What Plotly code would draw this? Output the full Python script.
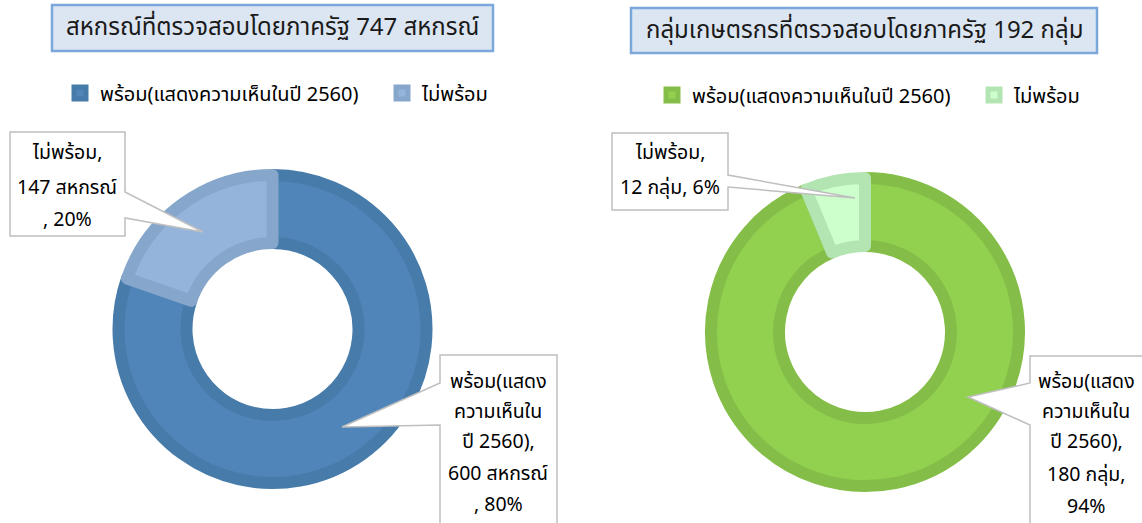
import plotly.graph_objects as go

W, H = 1142, 523

# ---- data ----
categories = ["พร้อม(แสดงความเห็นในปี 2560)", "ไม่พร้อม"]
coop_values = [600, 147]
group_values = [180, 12]
coop_unit = "สหกรณ์"
group_unit = "กลุ่ม"
coop_title = "สหกรณ์ที่ตรวจสอบโดยภาครัฐ 747 สหกรณ์"
group_title = "กลุ่มเกษตรกรที่ตรวจสอบโดยภาครัฐ 192 กลุ่ม"

coop_fill = ["#4F85B9", "#95B4DC"]
coop_line = ["#467BAA", "#86A7CB"]
group_fill = ["#92D050", "#CCFFCC"]
group_line = ["#84BE48", "#B3E5B3"]

FONT = "Tahoma, 'Noto Sans Thai', 'Noto Sans', 'DejaVu Sans', sans-serif"


def px(x):
    return x / W


def py(y):
    return 1 - y / H


def pct(vals, i):
    return round(vals[i] / sum(vals) * 100)


R_OUT = 160
LW = 12
r = R_OUT - LW / 2
hole = (80 + LW / 2) / r


def domain(cx, cy):
    return dict(x=[px(cx - r), px(cx + r)], y=[py(cy + r), py(cy - r)])


# labels of the second chart get a zero-width space so that the two pies keep
# separate legend entries (plotly merges pie legend items by label)
group_labels = [c + "\u200b" for c in categories]

fig = go.Figure()
fig.add_trace(go.Pie(
    labels=categories, values=coop_values, sort=False, direction="clockwise",
    rotation=0, hole=hole, textinfo="none", domain=domain(272.5, 329),
    marker=dict(colors=coop_fill, line=dict(color=coop_line, width=LW)),
    legend="legend", showlegend=True,
))
fig.add_trace(go.Pie(
    labels=group_labels, values=group_values, sort=False, direction="clockwise",
    rotation=0, hole=hole, textinfo="none", domain=domain(865, 332),
    marker=dict(colors=group_fill, line=dict(color=group_line, width=LW)),
    legend="legend2", showlegend=True,
))

shapes = []
annotations = []

# title boxes
for (x0, y0, x1, y1), text in [((52, 5, 493, 51), coop_title), ((631, 8, 1097, 53), group_title)]:
    shapes.append(dict(type="rect", xref="paper", yref="paper",
                       x0=px(x0), x1=px(x1), y0=py(y1), y1=py(y0),
                       fillcolor="#DCE6F2", line=dict(color="#7BA7DB", width=2.5)))
    annotations.append(dict(xref="paper", yref="paper", x=px((x0 + x1) / 2), y=py((y0 + y1) / 2),
                            text=text, showarrow=False, xanchor="center", yanchor="middle",
                            font=dict(size=24, color="#1A1A1A", family=FONT)))


def callout(box, ptr, lines, cx, ys):
    x0, y0, x1, y1 = box
    side, pa, tip, pb = ptr
    if side == "right":
        pts = [(x0, y0), (x1, y0), (x1, pa), tip, (x1, pb), (x1, y1), (x0, y1)]
    else:
        pts = [(x0, y0), (x1, y0), (x1, y1), (x0, y1), (x0, pb), tip, (x0, pa)]
    path = "M" + " L".join(f"{px(a):.5f},{py(b):.5f}" for a, b in pts) + " Z"
    shapes.append(dict(type="path", xref="paper", yref="paper", path=path,
                       fillcolor="white", line=dict(color="#BFBFBF", width=1.5)))
    for t, yy in zip(lines, ys):
        annotations.append(dict(xref="paper", yref="paper", x=px(cx), y=py(yy), text=t,
                                showarrow=False, xanchor="center", yanchor="middle",
                                font=dict(size=19.5, color="#000000", family=FONT)))


callout((10, 132, 125, 236), ("right", 192, (203, 232), 218),
        [f"{categories[1]},", f"{coop_values[1]} {coop_unit}", f", {pct(coop_values, 1)}%"],
        67, [153, 188, 220])
callout((440, 355, 557, 540), ("left", 383, (342, 427), 425),
        ["พร้อม(แสดง", "ความเห็นใน", "ปี 2560),", f"{coop_values[0]} {coop_unit}", f", {pct(coop_values, 0)}%"],
        498, [382, 412, 442, 474, 505])
callout((612, 133, 728, 210), ("right", 175, (855, 198), 187),
        [f"{categories[1]},", f"{group_values[1]} {group_unit}, {pct(group_values, 1)}%"],
        670, [153, 188])
callout((1030, 356, 1160, 540), ("left", 383, (968, 397), 425),
        ["พร้อม(แสดง", "ความเห็นใน", "ปี 2560),", f"{group_values[0]} {group_unit},", f"{pct(group_values, 0)}%"],
        1086, [382, 412, 442, 475, 507])

legend_common = dict(orientation="h", xanchor="left", yanchor="middle",
                     font=dict(size=20, color="#000000", family=FONT),
                     bgcolor="rgba(0,0,0,0)", traceorder="normal", entrywidth=277)

fig.update_layout(
    width=W, height=H, margin=dict(l=0, r=0, t=0, b=0, autoexpand=False),
    paper_bgcolor="white", plot_bgcolor="white",
    font=dict(family=FONT),
    shapes=shapes, annotations=annotations,
    legend=dict(x=px(60), y=py(93), **legend_common),
    legend2=dict(x=px(652), y=py(95), **legend_common),
)

fig.write_html("out.html", config={"displayModeBar": False},
               post_script="document.body.style.margin='0';document.body.style.padding='0';")
